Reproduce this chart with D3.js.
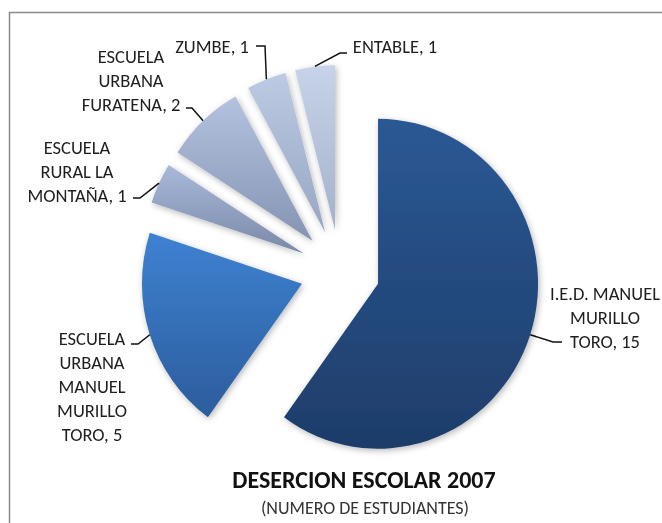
<!DOCTYPE html>
<html>
<head>
<meta charset="utf-8">
<script src="https://cdn.jsdelivr.net/npm/d3@7"></script>
<style>
  body { margin: 0; background: #fff; }
  text { font-family: Carlito, Calibri, Lato, sans-serif; fill: #1e1e1e; }
</style>
</head>
<body>
<svg id="chart" width="662" height="523"></svg>
<script>
// data
var categories = ["I.E.D. MANUEL MURILLO TORO", "ESCUELA URBANA MANUEL MURILLO TORO",
                  "ESCUELA RURAL LA MONTAÑA", "ESCUELA URBANA FURATENA", "ZUMBE", "ENTABLE"];
var values = [15, 5, 1, 2, 1, 1];
// how each category label is broken into lines (value gets appended to the last one)
var labelLines = [["I.E.D. MANUEL", "MURILLO", "TORO"],
                  ["ESCUELA", "URBANA", "MANUEL", "MURILLO", "TORO"],
                  ["ESCUELA", "RURAL LA", "MONTAÑA"],
                  ["ESCUELA", "URBANA", "FURATENA"],
                  ["ZUMBE"],
                  ["ENTABLE"]];
var topColors = ["#2b5894", "#3e82d2", "#a9b9d9", "#b2c2df", "#bccae3", "#c7d3e8"];
var bottomColors = ["#1e3d6a", "#2c5c9c", "#7a89a8", "#8594b2", "#97a6c2", "#a3b1cb"];
var title = "DESERCION ESCOLAR 2007";
var subtitle = "(NUMERO DE ESTUDIANTES)";

// layout
var cx = 340, cy = 271, radius = 160, sy = 1.031, explode = 40;
// label placement: centre x, first baseline y, elbow of leader line, end of leader line
var labelPos = [
    { x: 605, y: 300, elbow: [553, 342], end: [562, 342] },
    { x: 92, y: 345, elbow: [138, 344], end: [131, 344] },
    { x: 77, y: 154, elbow: [140, 198], end: [133, 198] },
    { x: 131, y: 63, elbow: [192, 108], end: [186, 108] },
    { x: 212, y: 53, elbow: [265, 46], end: [256, 46] },
    { x: 395, y: 53, elbow: [340, 53], end: [347, 53] }
];
var lineHeight = 24;

var svg = d3.select("#chart");
var defs = svg.append("defs");

var shadow = defs.append("filter").attr("id", "shadow")
    .attr("x", "-20%").attr("y", "-20%").attr("width", "140%").attr("height", "140%");
shadow.append("feDropShadow").attr("dx", 1.5).attr("dy", 2).attr("stdDeviation", 3)
    .attr("flood-color", "#000").attr("flood-opacity", 0.28);

values.forEach(function (v, i) {
    var g = defs.append("linearGradient").attr("id", "grad" + i)
        .attr("x1", 0).attr("y1", 0).attr("x2", 0).attr("y2", 1);
    g.append("stop").attr("offset", "0%").attr("stop-color", topColors[i]);
    g.append("stop").attr("offset", "100%").attr("stop-color", bottomColors[i]);
});

// chart area frame (only top and left edge show in the picture)
svg.append("path")
    .attr("d", "M662,12.5 H9.5 V523")
    .attr("fill", "none").attr("stroke", "#8a8a8a").attr("stroke-width", 1.5);

var pie = d3.pie().sort(null).value(function (d) { return d; });
var arcs = pie(values);
var arc = d3.arc().innerRadius(0).outerRadius(radius);

var offset = function (a, r) {
    var mid = (a.startAngle + a.endAngle) / 2;
    return [Math.sin(mid) * r, -Math.cos(mid) * r * sy];
};

var pieG = svg.append("g")
    .attr("transform", "translate(" + cx + "," + cy + ")")
    .attr("filter", "url(#shadow)");

pieG.selectAll("path.slice")
    .data(arcs)
    .enter().append("path")
    .attr("class", "slice")
    .attr("transform", function (a) {
        var o = offset(a, explode);
        return "translate(" + o[0] + "," + o[1] + ") scale(1," + sy + ")";
    })
    .attr("d", arc)
    .attr("fill", function (a, i) { return "url(#grad" + i + ")"; });

// leader lines: from outer edge of slice at its mid angle to the label
svg.selectAll("path.leader")
    .data(arcs)
    .enter().append("path")
    .attr("class", "leader")
    .attr("d", function (a, i) {
        var o = offset(a, explode + radius);
        var p = labelPos[i];
        return "M" + (cx + o[0]) + "," + (cy + o[1]) +
            "L" + p.elbow[0] + "," + p.elbow[1] + "L" + p.end[0] + "," + p.end[1];
    })
    .attr("fill", "none").attr("stroke", "#111").attr("stroke-width", 1.5);

var labels = svg.selectAll("text.label")
    .data(arcs)
    .enter().append("text")
    .attr("class", "label")
    .attr("text-anchor", "middle")
    .style("font-size", "18.5px");

labels.each(function (a, i) {
    var lines = labelLines[i].slice();
    lines[lines.length - 1] += ", " + values[i];
    var t = d3.select(this);
    lines.forEach(function (l, k) {
        t.append("tspan")
            .attr("x", labelPos[i].x)
            .attr("y", labelPos[i].y + k * lineHeight)
            .text(l);
    });
});

svg.append("text")
    .attr("x", 364).attr("y", 488)
    .attr("text-anchor", "middle")
    .style("font-size", "24px").style("font-weight", "bold").style("fill", "#111")
    .text(title);

svg.append("text")
    .attr("x", 365).attr("y", 514)
    .attr("text-anchor", "middle")
    .style("font-size", "18px").style("fill", "#333")
    .text(subtitle);
</script>
</body>
</html>
